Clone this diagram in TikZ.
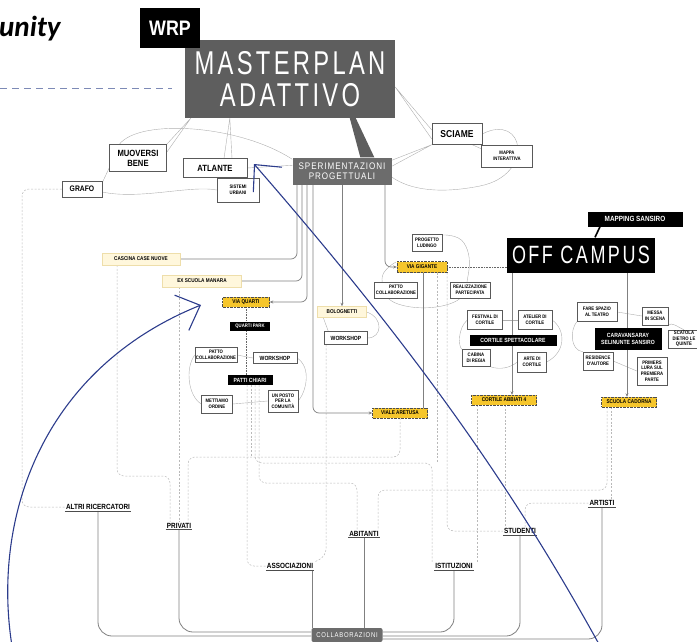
\documentclass[tikz,border=0pt]{standalone}
\usepackage{fontspec}
\setmainfont{Liberation Sans}
\newfontfamily\hand[FakeStretch=0.85]{Liberation Sans}
\newfontfamily\handwide[FakeStretch=0.85, LetterSpace=10]{Liberation Sans}
\newfontfamily\handtall[FakeStretch=0.72, LetterSpace=10]{Liberation Sans}
\newfontfamily\calib{Carlito}
\usetikzlibrary{arrows.meta, positioning, backgrounds}
\definecolor{masterGrey}{RGB}{94,94,94}
\definecolor{sperGrey}{RGB}{108,108,108}
\definecolor{labelYellow}{RGB}{246,198,44}
\definecolor{paleYellow}{RGB}{255,247,220}
\definecolor{paleEdge}{RGB}{238,222,170}
\definecolor{annoBlue}{RGB}{44,60,140}
\definecolor{guideBlue}{RGB}{125,138,182}
\definecolor{lineGrey}{RGB}{128,128,128}
\definecolor{faintGrey}{RGB}{175,175,175}
\definecolor{dashGrey}{RGB}{185,185,185}

\begin{document}
\begin{tikzpicture}[x=1pt, y=1pt,
    item/.style={rectangle, draw=black!65, line width=0.4pt, fill=white, align=center, inner sep=1pt, font=\hand\bfseries\fontsize{5}{5.6}\selectfont},
    tag/.style={rectangle, fill=black, text=white, align=center, inner sep=1pt, font=\hand\bfseries\fontsize{6}{6.6}\selectfont},
    place/.style={rectangle, draw=black!70, densely dotted, fill=labelYellow, inner sep=1pt, font=\hand\bfseries\fontsize{5.5}{6}\selectfont},
    site/.style={rectangle, draw=paleEdge, fill=paleYellow, inner sep=1pt, font=\hand\bfseries\fontsize{5.5}{6}\selectfont},
    actor/.style={inner sep=1pt, font=\hand\bfseries\fontsize{7.5}{8}\selectfont, append after command={(\tikzlastnode.south west) edge[draw=black!70, line width=0.6pt] (\tikzlastnode.south east)}},
    mm/.style={draw=faintGrey, line width=0.4pt},
    sp/.style={draw=lineGrey, line width=0.7pt, rounded corners=6pt},
    spArrow/.style={sp, -{Stealth[length=3.5pt, width=3pt]}},
    coll/.style={draw=lineGrey, line width=0.8pt, rounded corners=14pt},
    dsh/.style={draw=dashGrey, line width=0.5pt, dash pattern=on 2pt off 1.6pt, rounded corners=7pt},
    dots/.style={draw=black!60, line width=0.5pt, dash pattern=on 0.8pt off 0.8pt},
    anno/.style={draw=annoBlue, line width=1.1pt, -{Straight Barb[length=20pt, width=38pt]}}
]
    \useasboundingbox (0,0) rectangle (697,-642);

    % Header
    \node[anchor=base west, inner sep=0pt, font=\calib\bfseries\itshape\fontsize{29}{29}\selectfont] (unity) at (-1,-37) {unity};
    \draw[guideBlue, line width=0.8pt, dash pattern=on 7pt off 5pt] (0,-88) -- (172,-88);

    % Masterplan and first ring
    \node[rectangle, fill=masterGrey, text=white, minimum width=210, minimum height=78, align=center, inner sep=0pt, font=\handtall\fontsize{33}{32}\selectfont] (master) at (290,-79) {MASTERPLAN\\ADATTIVO};
    \node[tag, minimum width=60, minimum height=40, font=\hand\bfseries\fontsize{21}{21}\selectfont] (wrp) at (170,-28) {WRP};
    \node[item, minimum width=57, minimum height=27, font=\hand\bfseries\fontsize{9}{10}\selectfont] (muoversi) at (138,-158) {MUOVERSI\\BENE};
    \node[item, minimum width=40, minimum height=16, font=\hand\bfseries\fontsize{8}{8}\selectfont] (grafo) at (82,-189) {GRAFO};
    \node[item, minimum width=64, minimum height=19, font=\hand\bfseries\fontsize{9}{9}\selectfont] (atlante) at (215,-168) {ATLANTE};
    \node[item, minimum width=42, minimum height=24] (sistemi) at (238,-190) {SISTEMI\\URBANI};
    \node[rectangle, fill=sperGrey, text=white, minimum width=99, minimum height=27, align=center, inner sep=1pt, font=\handwide\fontsize{9.5}{10.5}\selectfont] (sper) at (342,-171) {SPERIMENTAZIONI\\PROGETTUALI};
    \node[item, minimum width=50, minimum height=21, font=\hand\bfseries\fontsize{10}{10}\selectfont] (sciame) at (457,-134) {SCIAME};
    \node[item, minimum width=51, minimum height=22] (mappa) at (507,-156) {MAPPA\\INTERATTIVA};
    \node[tag, minimum width=95, minimum height=15, font=\hand\bfseries\fontsize{7.5}{8}\selectfont] (mapping) at (635,-219) {MAPPING SANSIRO};
    \node[tag, minimum width=148, minimum height=35, font=\handtall\fontsize{25}{25}\selectfont] (offcampus) at (581,-255) {OFF CAMPUS};

    % Via Gigante
    \node[item, minimum width=30, minimum height=17] (ludingo) at (427,-243) {PROGETTO\\LUDINGO};
    \node[place, minimum width=50, minimum height=11] (viagigante) at (422,-267) {VIA GIGANTE};
    \node[item, minimum width=43, minimum height=16] (pattoG) at (396,-290) {PATTO\\COLLABORAZIONE};
    \node[item, minimum width=40, minimum height=16] (realizz) at (470,-290) {REALIZZAZIONE\\PARTECIPATA};

    % Cortile
    \node[item, minimum width=35, minimum height=19] (festival) at (485,-320) {FESTIVAL DI\\CORTILE};
    \node[item, minimum width=34, minimum height=19] (atelier) at (535,-320) {ATELIER DI\\CORTILE};
    \node[tag, minimum width=87, minimum height=11] (cortSpett) at (513,-340) {CORTILE SPETTACOLARE};
    \node[item, minimum width=28, minimum height=17] (cabina) at (476,-358) {CABINA\\DI REGIA};
    \node[item, minimum width=29, minimum height=20] (arte) at (532,-362) {ARTE DI\\CORTILE};
    \node[place, minimum width=65, minimum height=10] (abbiati) at (504,-400) {CORTILE ABBIATI 4};

    % Caravanserai
    \node[item, minimum width=40, minimum height=19] (spazio) at (597,-312) {FARE SPAZIO\\AL TEATRO};
    \node[item, minimum width=26, minimum height=18] (messa) at (655,-316) {MESSA\\IN SCENA};
    \node[tag, minimum width=67, minimum height=22] (caravan) at (628,-339) {CARAVANSARAY\\SELINUNTE SANSIRO};
    \node[item, minimum width=32, minimum height=18] (scatola) at (684,-339) {SCATOLA\\DIETRO LE\\QUINTE};
    \node[item, minimum width=30, minimum height=18] (residence) at (598,-361) {RESIDENCE\\D'AUTORE};
    \node[item, minimum width=30, minimum height=28] (primers) at (652,-371) {PRIMERS\\LURA SUL\\PREMIERA\\PARTE};
    \node[place, minimum width=55, minimum height=10] (cadorna) at (629,-402) {SCUOLA CADORNA};

    % Quarti and left sites
    \node[site, minimum width=78, minimum height=12] (cascina) at (141,-259) {CASCINA CASE NUOVE};
    \node[site, minimum width=79, minimum height=12] (manara) at (202,-281) {EX SCUOLA MANARA};
    \node[place, minimum width=47, minimum height=10] (viaquarti) at (246,-302) {VIA QUARTI};
    \node[tag, minimum width=40, minimum height=9, font=\hand\bfseries\fontsize{5}{5}\selectfont] (quartipark) at (250,-326) {QUARTI PARK};
    \node[item, minimum width=42, minimum height=15] (pattoQ) at (216,-355) {PATTO\\COLLABORAZIONE};
    \node[item, minimum width=44, minimum height=11, font=\hand\bfseries\fontsize{6}{6}\selectfont] (workshopQ) at (275,-358) {WORKSHOP};
    \node[tag, minimum width=45, minimum height=10] (patti) at (250,-380) {PATTI CHIARI};
    \node[item, minimum width=31, minimum height=18] (mettiamo) at (217,-404) {METTIAMO\\ORDINE};
    \node[item, minimum width=30, minimum height=22] (unposto) at (283,-401) {UN POSTO\\PER LA\\COMUNITÀ};
    \node[site, minimum width=49, minimum height=11] (bolog) at (342,-312) {BOLOGNETTI};
    \node[item, minimum width=43, minimum height=13, font=\hand\bfseries\fontsize{6}{6}\selectfont] (workshopB) at (346,-338) {WORKSHOP};
    \node[place, minimum width=55, minimum height=10] (aretusa) at (400,-413) {VIALE ARETUSA};

    % Actors
    \node[actor] (altri) at (98,-507) {ALTRI RICERCATORI};
    \node[actor] (privati) at (179,-526) {PRIVATI};
    \node[actor] (assoc) at (290,-566) {ASSOCIAZIONI};
    \node[actor] (abitanti) at (364,-534) {ABITANTI};
    \node[actor] (istit) at (454,-566) {ISTITUZIONI};
    \node[actor] (studenti) at (520,-531) {STUDENTI};
    \node[actor] (artisti) at (602,-503) {ARTISTI};
    \node[rectangle, rounded corners=2pt, fill=sperGrey, text=white, minimum width=71, minimum height=14, inner sep=1pt, font=\handwide\fontsize{7}{7}\selectfont] (collab) at (347,-635) {COLLABORAZIONI};

    \begin{scope}[on background layer]
        % Mind map ties
        \draw[mm] (muoversi.north east) -- ([xshift=6pt]master.south west) -- ([yshift=-8pt]muoversi.north east);
        \draw[mm] ([xshift=9pt]atlante.north) -- ([xshift=45pt]master.south west) -- ([xshift=17pt]atlante.north);
        \fill[masterGrey] ([xshift=165pt]master.south west) -- ([xshift=171pt]master.south west) -- ([xshift=82pt]sper.north west) -- ([xshift=68pt]sper.north west) -- cycle;
        \draw[mm] ([yshift=4pt]sciame.west) -- ([yshift=-8pt]master.east) -- ([yshift=-5pt]sciame.west);
        \draw[mm] ([xshift=-10pt]sciame.south east) -- ([yshift=-4pt]mappa.north west);
        \draw[mm] (sciame.east) .. controls (525,-112) and (535,-175) .. (480,-186) .. controls (440,-194) and (410,-190) .. ([yshift=-6pt]sper.east);
        \draw[mm] ([yshift=-3pt]sper.north east) -- (sciame.south west) -- ([yshift=-9pt]sper.north east);
        \draw[mm] ([xshift=10pt]muoversi.north west) .. controls (140,-118) and (240,-125) .. ([yshift=-2pt]sper.north west);
        \draw[mm] (atlante.east) -- ([yshift=-8pt]sper.north west);
        \draw[mm] ([yshift=-2pt]grafo.north east) -- ([yshift=4pt]muoversi.south west);
        \draw[mm] ([yshift=-3pt]grafo.east) .. controls (140,-200) and (190,-185) .. (sistemi.west);
        \draw[mm] plot[smooth, tension=0.8] coordinates {(396,-262) (382,-279) (398,-304) (452,-303) (468,-276) (464,-243) (442,-235)};
        \draw[mm] (pattoQ.east) -- (workshopQ.west);
        \draw[mm] (mettiamo.east) -- (unposto.west);
        \draw[mm] (pattoQ.west) .. controls (185,-368) and (188,-396) .. (mettiamo.west);
        \draw[mm] (workshopQ.east) .. controls (312,-368) and (306,-392) .. (unposto.east);
        \draw[mm] (bolog.east) .. controls (384,-318) and (382,-338) .. (workshopB.east);
        \draw[mm] ([xshift=6pt]bolog.south west) -- ([xshift=4pt]workshopB.north west);
        \draw[mm] (festival.east) -- (atelier.west);
        \draw[mm] (festival.west) .. controls (458,-328) and (458,-346) .. (cabina.north west);
        \draw[mm] (atelier.east) .. controls (566,-330) and (566,-352) .. (arte.east);
        \draw[mm] (cabina.south east) .. controls (500,-370) and (510,-368) .. (arte.west);
        \draw[mm] (spazio.east) -- (messa.west);
        \draw[mm] (spazio.south west) .. controls (570,-330) and (570,-350) .. (residence.north west);
        \draw[mm] (residence.east) -- (primers.west);
        \draw[mm] (messa.south east) .. controls (672,-322) and (676,-326) .. (scatola.north);
        \draw[black, line width=1.6pt] ([xshift=-35pt]mapping.south) -- ([xshift=14pt]offcampus.north);

        % Dashed ties to the actors
        \draw[dsh] (grafo.west) -| (22,-507) -- (altri.west);
        \draw[dsh] ([xshift=-24pt]cascina.south) -- (117,-476) -- (170,-476) -- ([xshift=-9pt]privati.north);
        \draw[dsh] (privati.north |- manara.south) -- (privati.north);
        \draw[dsh] (aretusa.south) -- (400,-457) -- (188,-457) -- ([xshift=9pt]privati.north);
        \draw[dsh] ([xshift=-3pt]patti.south) |- (assoc.west);
        \draw[dsh] ([xshift=1pt]patti.south) -- (251,-457);
        \draw[dsh] ([xshift=5pt]patti.south) -- (255,-463) -- (432,-463) -- ([xshift=-22pt]istit.north);
        \draw[dsh] ([xshift=15pt]viagigante.south) -- (437,-463);
        \draw[dsh] ([xshift=9pt]patti.south) -- (259,-483) -- (357,-483) -- ([xshift=-7pt]abitanti.north);
        \draw[dsh] ([xshift=-20pt]workshopB.south) -- (326,-556) -- (assoc.north east);
        \draw[dsh] ([xshift=-22pt]cadorna.south) -- (607,-490) -- (378,-490) -- ([xshift=14pt]abitanti.north);
        \draw[dsh] ([xshift=-18pt]cadorna.south) -- ([xshift=9pt]artisti.north);
        \draw[dsh] ([xshift=-27pt]abbiati.south) -- ([xshift=23pt]istit.north);
        \draw[dsh] ([xshift=1pt]abbiati.south) -- ([xshift=-15pt]studenti.north);
        \draw[dsh] ([xshift=5pt]studenti.north) |- (artisti.west);
        \draw[dsh] ([xshift=25pt]viagigante.south) |- (studenti.west);

        % Sperimentazioni branches
        \draw[sp] ([xshift=-45pt]sper.south) |- (cascina.east);
        \draw[sp] ([xshift=-40pt]sper.south) |- (manara.east);
        \draw[spArrow] ([xshift=-35pt]sper.south) |- (viaquarti.east);
        \draw[spArrow] ([xshift=-29pt]sper.south) |- (aretusa.west);
        \draw[spArrow] (sper.south) -- (bolog.north);
        \draw[spArrow] ([xshift=43pt]sper.south) |- (viagigante.west);
        \draw[spArrow, line width=0.5pt] ([xshift=-69pt]offcampus.south) -- ([xshift=8pt]abbiati.north);
        \draw[spArrow, line width=0.5pt] ([xshift=46pt]offcampus.south) -- ([xshift=-2pt]cadorna.north);
        \draw[sp, line width=0.5pt] ([xshift=1pt]viagigante.south) -- ([xshift=23pt]aretusa.north);
        \draw[dots] (viagigante.east) -- (viagigante.east -| offcampus.west);
        \draw[dots] (viaquarti.south) -- (viaquarti.south |- patti.north);

        % Collaborazioni
        \draw[coll] (altri.south) |- ([yshift=-1pt]collab.west);
        \draw[coll] (privati.south) |- ([yshift=3pt]collab.west);
        \draw[coll] ([xshift=-2pt]assoc.south east) -- ([xshift=-2pt]assoc.south east |- collab.north);
        \draw[coll] (abitanti.south) -- (abitanti.south |- collab.north);
        \draw[coll] (istit.south) |- ([yshift=3pt]collab.east);
        \draw[coll] (studenti.south) |- ([yshift=-1pt]collab.east);
        \draw[coll] (artisti.south) |- ([yshift=-4pt]collab.east);
    \end{scope}

    % Annotation arrows
    \coordinate (tipA) at (254,-164);
    \coordinate (footA) at (600,-646);
    \draw[anno] (footA) .. controls (506,-475) and (402,-334) .. (tipA);
    \coordinate (tipQ) at (201,-305);
    \coordinate (footQ) at (12,-646);
    \draw[anno] (footQ) .. controls (-8,-520) and (40,-370) .. (tipQ);
\end{tikzpicture}
\end{document}
